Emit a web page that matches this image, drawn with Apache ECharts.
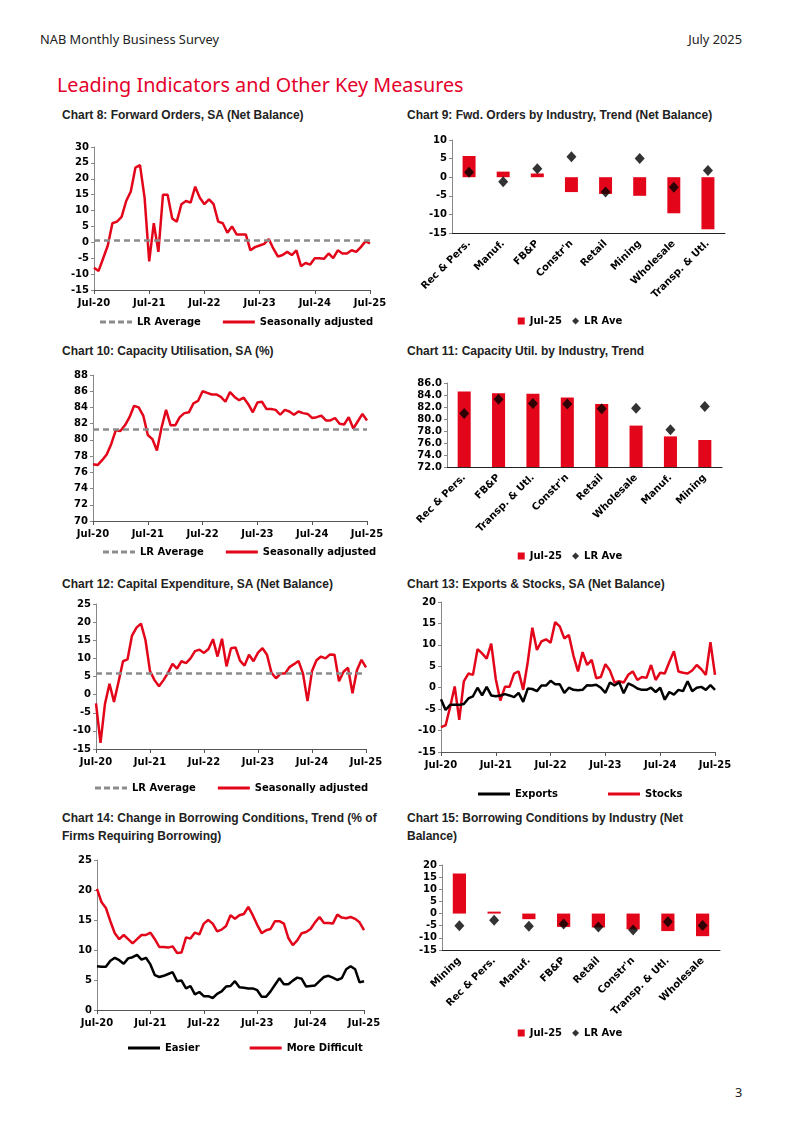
<!DOCTYPE html>
<html>
<head>
<meta charset="utf-8">
<script src="https://cdn.jsdelivr.net/npm/echarts@6/dist/echarts.min.js"></script>
<style>
  body { margin: 0; background: #fff; }
  .page { position: relative; width: 800px; height: 1130px; overflow: hidden; }
  .hdr { position: absolute; top: 30px; font-family: 'Noto Sans', sans-serif; font-size: 12.8px; color: #222; }
  .section { position: absolute; left: 57px; top: 71px; font-family: 'Noto Sans', sans-serif; font-size: 19.8px; color: #e4002b; }
  .ttl { position: absolute; font-family: 'Liberation Sans', Arial, sans-serif; font-weight: bold; font-size: 12px; line-height: 18px; color: #222; }
  .chart { position: absolute; }
</style>
</head>
<body>
<div class="page">
  <div class="hdr" style="left:40px;">NAB Monthly Business Survey</div>
  <div class="hdr" style="right:58px;">July 2025</div>
  <div class="section">Leading Indicators and Other Key Measures</div>

  <div class="ttl" style="left:62px; top:106px;">Chart 8: Forward Orders, SA (Net Balance)</div>
  <div class="ttl" style="left:407px; top:106px;">Chart 9: Fwd. Orders by Industry, Trend (Net Balance)</div>
  <div class="ttl" style="left:62px; top:342px;">Chart 10: Capacity Utilisation, SA (%)</div>
  <div class="ttl" style="left:407px; top:342px;">Chart 11: Capacity Util. by Industry, Trend</div>
  <div class="ttl" style="left:62px; top:575px;">Chart 12: Capital Expenditure, SA (Net Balance)</div>
  <div class="ttl" style="left:407px; top:575px;">Chart 13: Exports &amp; Stocks, SA (Net Balance)</div>
  <div class="ttl" style="left:62px; top:809px;">Chart 14: Change in Borrowing Conditions, Trend (% of<br>Firms Requiring Borrowing)</div>
  <div class="ttl" style="left:407px; top:809px;">Chart 15: Borrowing Conditions by Industry (Net<br>Balance)</div>

  <div id="chart8" class="chart" style="left:40px; top:128px; width:355px; height:205px;"></div>
  <div id="chart9" class="chart" style="left:395px; top:128px; width:350px; height:205px;"></div>
  <div id="chart10" class="chart" style="left:40px; top:362px; width:355px; height:200px;"></div>
  <div id="chart11" class="chart" style="left:395px; top:370px; width:350px; height:195px;"></div>
  <div id="chart12" class="chart" style="left:40px; top:595px; width:355px; height:205px;"></div>
  <div id="chart13" class="chart" style="left:395px; top:595px; width:350px; height:210px;"></div>
  <div id="chart14" class="chart" style="left:40px; top:850px; width:355px; height:210px;"></div>
  <div id="chart15" class="chart" style="left:395px; top:850px; width:350px; height:195px;"></div>

  <div class="hdr" style="left:735px; top:1083px;">3</div>
</div>

<script>
  // monthly categories Jul-20 .. Jul-25
  var monthNames = ['Jan', 'Feb', 'Mar', 'Apr', 'May', 'Jun', 'Jul', 'Aug', 'Sep', 'Oct', 'Nov', 'Dec'];
  var months = [];
  for (var yr = 20; yr <= 25; yr++) {
    for (var m = 0; m < 12; m++) {
      if ((yr === 20 && m < 6) || (yr === 25 && m > 6)) continue;
      months.push(monthNames[m] + '-' + yr);
    }
  }
  var tickLabels = ['Jul-20', 'Jul-21', 'Jul-22', 'Jul-23', 'Jul-24', 'Jul-25'];

  // Chart 8
  var fwdOrders = [-8, -9, -5, -1, 6, 6.5, 8, 13, 16, 23.5, 24.3, 14, -6, 6, -3, 15, 15, 7.5, 6.5, 12,
    13, 12.5, 17.5, 14, 12, 13.5, 12, 6.5, 6, 3, 5, 2.5, 2.5, 2.5, -2.5, -1.5, -1, -0.5, 1, -2,
    -4.5, -4, -3, -4, -2.5, -7.5, -6.5, -7, -5, -5, -5.2, -3.5, -5, -2.5, -3.5, -3.5, -2.5, -3, -1.5, 0.3, -0.3];
  var fwdOrdersLR = 0.7;

  // Chart 9
  var c9Cats = ['Rec & Pers.', 'Manuf.', 'FB&P', "Constr'n", 'Retail', 'Mining', 'Wholesale', 'Transp. & Utl.'];
  var c9Jul25 = [5.7, 1.5, 1.0, -4.0, -4.5, -5.0, -9.7, -14.0];
  var c9LR = [1.3, -1.2, 2.3, 5.5, -4.0, 5.0, -2.7, 1.8];

  // Chart 10
  var capUtil = [77.0, 76.9, 77.5, 78.2, 79.5, 81.2, 81.1, 81.8, 82.8, 84.2, 84.0, 83.0, 80.6, 80.1, 78.7, 81.5, 83.7, 81.8, 81.8, 82.8,
    83.3, 83.4, 84.5, 84.8, 86.0, 85.8, 85.6, 85.6, 85.3, 84.7, 85.9, 85.3, 84.9, 85.2, 84.4, 83.4, 84.6, 84.7, 83.8, 83.8,
    83.7, 83.1, 83.7, 83.5, 83.1, 83.5, 83.3, 83.2, 82.7, 82.8, 83.0, 82.4, 82.4, 82.7, 82.0, 81.9, 82.8, 81.4, 82.3, 83.2, 82.4];
  var capUtilLR = 81.3;

  // Chart 11
  var c11Cats = ['Rec & Pers.', 'FB&P', 'Transp. & Utl.', "Constr'n", 'Retail', 'Wholesale', 'Manuf.', 'Mining'];
  var c11Jul25 = [84.6, 84.3, 84.2, 83.6, 82.5, 78.9, 77.1, 76.5];
  var c11LR = [80.9, 83.3, 82.6, 82.5, 81.7, 81.8, 78.2, 82.1];

  // Chart 12
  var capex = [-2.4, -13.3, -2.5, 3, -2, 3.5, 9.2, 9.7, 16.3, 18.5, 19.6, 15, 6.5, 4, 2.3, 4, 6, 8.5, 7.2, 9.2,
    8.7, 10, 12, 12.4, 11.5, 12.6, 15.3, 10.5, 15.4, 7.8, 12.8, 13, 9.4, 8, 11, 9.2, 11.6, 12.8, 11, 6,
    4.5, 5.8, 5.8, 7.6, 8.4, 9.3, 5.8, -1.8, 6.5, 9.5, 10.5, 10, 11.1, 11, 3.7, 6.3, 7.4, 0.4, 6.8, 9.6, 7.5];
  var capexLR = 6.0;

  // Chart 13
  var exportsSA = [-2.7, -5.2, -4, -4, -4, -3.8, -2.5, -2, 0, -1.8, 0.2, -1.8, -2, -1.8, -1.5, -1.8, -2.2, -1.2, -3.3, -0.2,
    -0.3, -0.8, 0.5, 0.5, 1.6, 0.8, 0.8, -1.2, 0, -0.5, -0.6, -0.5, 0.6, 0.5, 0.7, 0, -1.2, 1.2, 0.5, 1.3,
    -1.3, 1, 0.5, -0.2, -0.5, -0.5, 0, -1, 0, -2.8, -1, -1.6, -0.5, -0.8, 1.5, -0.8, 0, 0.2, -0.5, 0.6, -0.5];
  var stocksSA = [-9.2, -8.8, -4.5, 0.3, -7.5, 1.5, 3.3, 3, 9, 8, 6.8, 10.3, 2, -3, 0.2, 0.2, 3.3, 3.8, -0.5, 6,
    14, 8.8, 10.8, 11.3, 10.5, 15.3, 14.3, 11.5, 12.3, 7.5, 3.8, 8.3, 5.3, 6.5, 2.2, 2.5, 5.5, 4, 1.2, 1.5,
    1.2, 3, 3.8, 1.8, 2.5, 2.3, 5.3, 1.8, 3.5, 3.3, 6, 8.5, 3.8, 3.5, 3.3, 4, 5.3, 4.3, 3, 10.6, 3];

  // Chart 14
  var easier = [7.3, 7.2, 7.2, 8.2, 8.7, 8.3, 7.7, 8.6, 8.8, 9.2, 8.4, 8.7, 7.6, 5.8, 5.5, 5.7, 6, 6.3, 4.8, 4.9,
    3.6, 4, 2.6, 3, 2.3, 2.3, 2, 2.7, 3.1, 3.9, 4, 4.8, 3.8, 3.7, 3.6, 3.6, 3.3, 2.2, 2.2, 3.1,
    4.2, 5.3, 4.3, 4.3, 4.9, 5.4, 5.2, 3.9, 4, 4.1, 4.8, 5.5, 5.7, 5.4, 5, 5.3, 6.8, 7.3, 6.8, 4.6, 4.8];
  var moreDifficult = [20.2, 18, 17, 14.8, 12.8, 11.8, 12.5, 11.8, 11.1, 11.8, 12.5, 12.5, 12.9, 11.8, 10.5, 10.5, 10.4, 10.6, 9.5, 9.6,
    12.1, 11.9, 12.9, 12.6, 14.4, 15, 14.4, 13.1, 13.4, 14, 15.8, 15.2, 15.8, 16, 17.2, 15.8, 14.2, 12.8, 13.3, 13.5,
    14.8, 14.8, 14.4, 12, 10.8, 11.6, 12.8, 13, 13.5, 14.6, 15.5, 14.5, 14.5, 14.4, 15.9, 15.4, 15.3, 15.5, 15.2, 14.6, 13.3];

  // Chart 15
  var c15Cats = ['Mining', 'Rec & Pers.', 'Manuf.', 'FB&P', 'Retail', "Constr'n", 'Transp. & Utl.', 'Wholesale'];
  var c15Jul25 = [16.5, 0.8, -2.3, -5.5, -5.7, -6.5, -7.2, -9.3];
  var c15LR = [-5.0, -2.7, -5.2, -4.3, -5.5, -6.8, -3.4, -4.9];

  var RED = '#e3061a';
  var GREY = '#8c8c8c';
  var txt = { fontFamily: 'DejaVu Sans', fontWeight: 'bold', fontSize: 10, color: '#000' };
  // legend icons drawn as plain line segments (no marker)
  var solidIcon = 'path://M0,0h32v3h-32z';
  var dashIcon = 'path://M0,0h6v3h-6z M9,0h6v3h-6z M18,0h6v3h-6z M27,0h5v3h-5z';

  function isTick(index, value) {
    return tickLabels.indexOf(value) >= 0;
  }

  function valueAxis(min, max, step, fmt) {
    return {
      type: 'value', min: min, max: max, interval: step,
      axisLine: { show: true, lineStyle: { color: '#888' } },
      axisTick: { show: true, length: 3, lineStyle: { color: '#888' } },
      splitLine: { show: false },
      axisLabel: Object.assign({ margin: 5, formatter: fmt }, txt)
    };
  }

  function lineChart(id, cfg) {
    var chart = echarts.init(document.getElementById(id));
    var series = cfg.lines.map(function (l) {
      return {
        name: l.name, type: 'line', data: l.data, symbol: 'none',
        lineStyle: { color: l.color, width: 2.5 }, itemStyle: { color: l.color }, z: l.z || 3
      };
    });
    var legendData = cfg.lines.map(function (l) { return { name: l.name, icon: solidIcon }; });
    if (cfg.lr !== undefined) {
      series.unshift({
        name: 'LR Average', type: 'line', data: [], symbol: 'none',
        lineStyle: { color: GREY, width: 2.5, type: [6, 4] }, itemStyle: { color: GREY },
        markLine: {
          silent: true, symbol: 'none', label: { show: false },
          lineStyle: { color: GREY, width: 2.5, type: [6, 4] },
          data: [{ yAxis: cfg.lr }]
        }
      });
      legendData.unshift({ name: 'LR Average', icon: dashIcon });
    }
    chart.setOption({
      animation: false,
      grid: cfg.grid,
      legend: {
        left: cfg.legendLeft, top: cfg.legendTop, itemWidth: 32, itemHeight: 3, itemGap: cfg.legendGap,
        textStyle: txt, data: legendData
      },
      xAxis: [
        {
          type: 'category', data: months, boundaryGap: false, position: 'bottom',
          axisLine: { show: false }, axisTick: { show: false },
          axisLabel: Object.assign({ interval: isTick, margin: 8, showMaxLabel: true }, txt)
        },
        {
          type: 'category', data: months, boundaryGap: false, position: 'bottom',
          axisLine: { show: true, onZero: true, lineStyle: { color: '#555' } },
          axisTick: { show: true, interval: isTick, length: 4, lineStyle: { color: '#555' } },
          axisLabel: { show: false }
        }
      ],
      yAxis: valueAxis(cfg.min, cfg.max, cfg.step),
      series: series
    });
  }

  function barChart(id, cfg) {
    var chart = echarts.init(document.getElementById(id));
    chart.setOption({
      animation: false,
      grid: cfg.grid,
      legend: {
        left: 'center', top: cfg.legendTop, itemWidth: 7, itemHeight: 7, itemGap: 10,
        textStyle: txt,
        data: [{ name: 'Jul-25', icon: 'rect' }, { name: 'LR Ave', icon: 'diamond' }]
      },
      xAxis: [
        {
          type: 'category', data: cfg.cats, position: 'bottom',
          axisLine: { show: false }, axisTick: { show: false },
          axisLabel: Object.assign({ interval: 0, rotate: 45, margin: 9 }, txt)
        },
        {
          type: 'category', data: cfg.cats, position: 'bottom',
          axisLine: { show: true, onZero: true, lineStyle: { color: '#222' } },
          axisTick: { show: false }, axisLabel: { show: false }
        }
      ],
      yAxis: valueAxis(cfg.min, cfg.max, cfg.step, cfg.fmt),
      series: [
        { name: 'Jul-25', type: 'bar', data: cfg.bars, barWidth: '38%', itemStyle: { color: RED } },
        { name: 'LR Ave', type: 'scatter', data: cfg.lr, symbol: 'diamond', symbolSize: [10, 11], itemStyle: { color: '#000' }, z: 5 }
      ]
    });
  }

  lineChart('chart8', {
    grid: { left: 54, top: 19, width: 276, height: 143 },
    min: -15, max: 30, step: 5, lr: fwdOrdersLR,
    lines: [{ name: 'Seasonally adjusted', data: fwdOrders, color: RED }],
    legendLeft: 55, legendTop: 184, legendGap: 22
  });

  barChart('chart9', {
    grid: { left: 57, top: 12, width: 273, height: 93 },
    cats: c9Cats, bars: c9Jul25, lr: c9LR, min: -15, max: 10, step: 5,
    legendTop: 183
  });

  lineChart('chart10', {
    grid: { left: 53, top: 13, width: 274, height: 146 },
    min: 70, max: 88, step: 2, lr: capUtilLR,
    lines: [{ name: 'Seasonally adjusted', data: capUtil, color: RED }],
    legendLeft: 58, legendTop: 180, legendGap: 22
  });

  barChart('chart11', {
    grid: { left: 52, top: 13, width: 275, height: 84 },
    cats: c11Cats, bars: c11Jul25, lr: c11LR, min: 72, max: 86, step: 2,
    fmt: function (v) { return v.toFixed(1); },
    legendTop: 176
  });

  lineChart('chart12', {
    grid: { left: 56, top: 9, width: 270, height: 145 },
    min: -15, max: 25, step: 5, lr: capexLR,
    lines: [{ name: 'Seasonally adjusted', data: capex, color: RED }],
    legendLeft: 50, legendTop: 183, legendGap: 22
  });

  lineChart('chart13', {
    grid: { left: 46, top: 7, width: 274, height: 150 },
    min: -15, max: 20, step: 5,
    lines: [
      { name: 'Exports', data: exportsSA, color: '#000', z: 4 },
      { name: 'Stocks', data: stocksSA, color: RED, z: 3 }
    ],
    legendLeft: 78, legendTop: 189, legendGap: 50
  });

  lineChart('chart14', {
    grid: { left: 57, top: 10, width: 267, height: 150 },
    min: 0, max: 25, step: 5,
    lines: [
      { name: 'Easier', data: easier, color: '#000' },
      { name: 'More Difficult', data: moreDifficult, color: RED }
    ],
    legendLeft: 83, legendTop: 188, legendGap: 50
  });

  barChart('chart15', {
    grid: { left: 47, top: 15, width: 278, height: 85 },
    cats: c15Cats, bars: c15Jul25, lr: c15LR, min: -15, max: 20, step: 5,
    legendTop: 173
  });
</script>
</body>
</html>
